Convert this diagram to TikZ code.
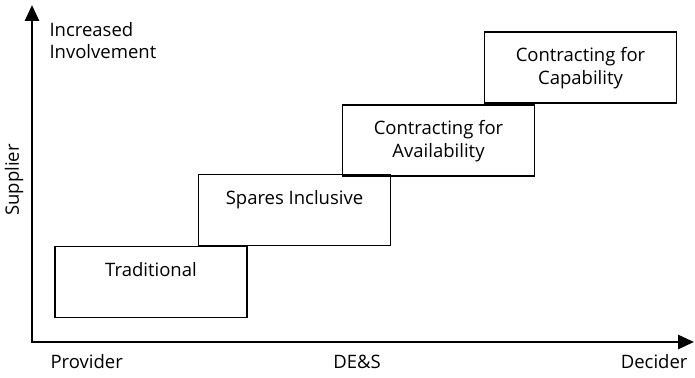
\documentclass[tikz,border=0pt]{standalone}
\usepackage{fontspec}
\setmainfont{Open Sans}
\usetikzlibrary{arrows.meta,positioning}

\begin{document}
\begin{tikzpicture}[x=1pt,y=-1pt,>={Triangle[width=14pt,length=16pt]},
                    stage/.style={draw,line width=1.3pt,minimum width=192pt,minimum height=71pt},
                    stage text/.style={align=center,anchor=north,font=\fontsize{18.5}{23}\selectfont},
                    axis label/.style={font=\fontsize{18.5}{22}\selectfont}]
  \useasboundingbox (0,0) rectangle (695,377);

  % axes
  \coordinate (origin) at (32,342);
  \coordinate (ytip) at (32,5);
  \coordinate (xtip) at (694,342);
  \draw[<->,line width=2.8pt,line join=miter] (ytip) |- (xtip);

  % stages
  \node[stage] (trad) at (151,282) {};
  \node[stage] (spares) at (294.5,210) {};
  \node[stage] (avail) at (438.5,140.5) {};
  \node[stage] (capab) at (580.5,67.5) {};

  \node[stage text] (tradtext) [below=13pt of trad.north] {Traditional};
  \node[stage text] (sparestext) [below=13pt of spares.north] {Spares Inclusive};
  \node[stage text] (availtext) [below=12pt of avail.north] {Contracting for\\Availability};
  \node[stage text] (capabtext) [below=12pt of capab.north] {Contracting for\\Capability};

  % axis labels
  \node[axis label,align=left,anchor=north west] (involve) at (46,19) {Increased\\Involvement};
  \node[axis label,rotate=90] (supplier) at (14,180) {Supplier};
  \node[axis label,anchor=west] (provider) at (47,362) {Provider};
  \node[axis label] (des) at (357,362) {DE\&S};
  \node[axis label,anchor=east] (decider) at (691,362) {Decider};
\end{tikzpicture}
\end{document}
